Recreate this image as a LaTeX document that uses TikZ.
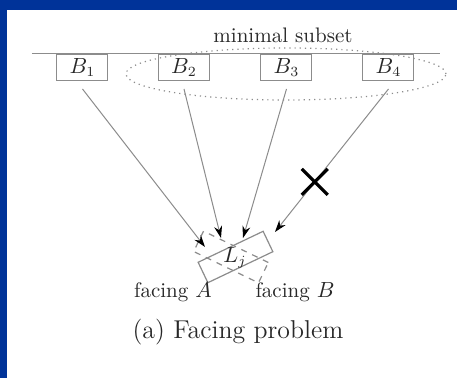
\documentclass[tikz,border=0pt]{standalone}
\usetikzlibrary{arrows.meta,shapes.geometric,calc}
\definecolor{slideblue}{RGB}{0,51,153}
\definecolor{linegray}{RGB}{140,140,140}
\definecolor{textgray}{RGB}{40,40,40}
\begin{document}
\begin{tikzpicture}[x=0.5pt,y=-0.5pt,
  bbox/.style={draw=linegray,line width=0.5pt,minimum width=25.5pt,minimum height=13pt,inner sep=0pt,anchor=north,text=textgray,font=\fontsize{10.5}{12}\selectfont},
  conn/.style={draw=linegray,line width=0.5pt,-{Stealth[length=6pt,width=4pt,black]}},
  lbl/.style={text=textgray,font=\fontsize{10.5}{12}\selectfont,inner sep=0pt},
  rrect/.style={draw=linegray,line width=0.6pt,minimum width=36pt,minimum height=11.3pt,inner sep=0pt}]
\fill[white] (0,0) rectangle (457,378);
\fill[slideblue] (0,0) rectangle (457,10);
\fill[slideblue] (0,0) rectangle (7.5,378);
\useasboundingbox (0,0) rectangle (457,378);
% baseline
\coordinate (la) at (32,54);
\coordinate (lb) at (440,54);
\draw[linegray,line width=0.5pt] (la) -- (lb);
% boxes
\node[bbox] (b1) at (82.5,54) {$B_1$};
\node[bbox] (b2) at (184,54) {$B_2$};
\node[bbox] (b3) at (286.5,54) {$B_3$};
\node[bbox] (b4) at (388.5,54) {$B_4$};
% subset ellipse
\node[ellipse,draw=linegray,dotted,line width=0.6pt,minimum width=160pt,minimum height=26pt,inner sep=0pt] (sub) at (286,74) {};
\node[lbl] (subl) at (283,35) {minimal subset};
% Lj rectangles
\node[rrect,rotate=25.5] (ra) at (235.5,257) {};
\node[rrect,dashed,rotate=-25.8] (rb) at (231,257) {};
\node[lbl] (lj) at (235,258) {$L_j$};
\node[lbl] (fa) at (173,292) {facing $A$};
\node[lbl] (fb) at (295,292) {facing $B$};
% connectors
\coordinate (s1) at ([yshift=-4pt]b1.south);
\coordinate (s2) at ([yshift=-4pt]b2.south);
\coordinate (s3) at ([yshift=-4pt]b3.south);
\coordinate (s4) at ([yshift=-4pt]b4.south);
\coordinate (t1) at (205,247);
\coordinate (t2) at (221,238);
\coordinate (t3) at (243,238);
\coordinate (t4) at (275,232);
\draw[conn] (s1) -- (t1);
\draw[conn] (s2) -- (t2);
\draw[conn] (s3) -- (t3);
\draw[conn] (s4) -- (t4);
% cross
\coordinate (xc) at ($(s4)!0.65!(t4)$);
\draw[black,line width=1.6pt] ($(xc)+(-13,-13)$) -- ($(xc)+(13,13)$);
\draw[black,line width=1.6pt] ($(xc)+(-13,13)$) -- ($(xc)+(13,-13)$);
% caption
\node[text=textgray,font=\fontsize{12.9}{15}\selectfont,inner sep=0pt] (cap) at (238,332) {(a) Facing problem};
\end{tikzpicture}
\end{document}
